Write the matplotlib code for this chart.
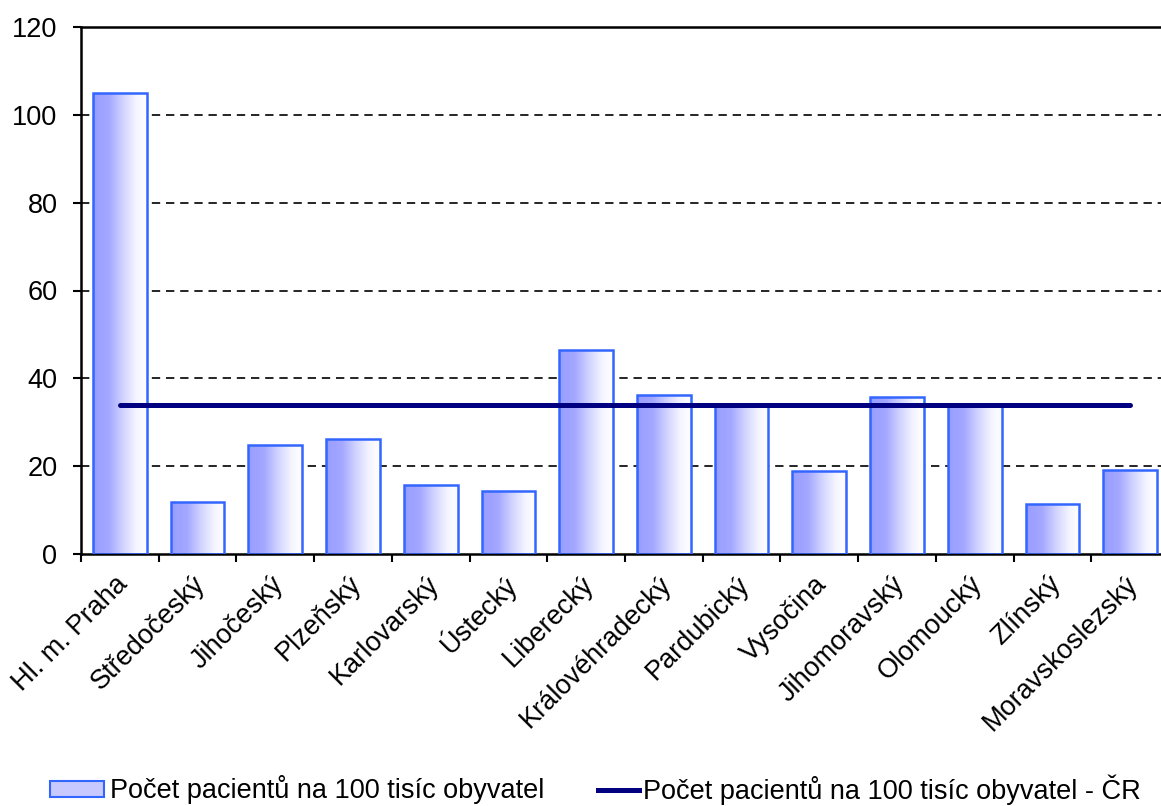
import numpy as np
import matplotlib
matplotlib.use('Agg')
import matplotlib.pyplot as plt
import matplotlib.transforms as mtransforms
from matplotlib.colors import LinearSegmentedColormap
from matplotlib.patches import Rectangle
from matplotlib.lines import Line2D

plt.rcParams['font.family'] = ['Liberation Sans', 'DejaVu Sans']

# data
regions = ['Hl. m. Praha', 'Středočeský', 'Jihočeský', 'Plzeňský', 'Karlovarský',
           'Ústecký', 'Liberecký', 'Královéhradecký', 'Pardubický', 'Vysočina',
           'Jihomoravský', 'Olomoucký', 'Zlínský', 'Moravskoslezský']
patients = [105.0, 11.8, 24.8, 26.2, 15.7, 14.3, 46.4, 36.2, 33.7, 18.9, 35.7, 33.9, 11.4, 19.1]
cr_value = 33.9
bar_label = 'Počet pacientů na 100 tisíc obyvatel'
line_label = 'Počet pacientů na 100 tisíc obyvatel - ČR'

fig = plt.figure(figsize=(11.61, 8.06), dpi=100)
ax = fig.add_axes([81 / 1161, 1 - 554 / 806, (1169 - 81) / 1161, (554 - 27) / 806])

x = np.arange(len(regions))
width = 0.69
grad_cmap = LinearSegmentedColormap.from_list(
    'grad', [(0, '#989cff'), (0.3, '#a4a8ff'), (0.55, '#d0d2ff'), (0.8, '#f4f4ff'), (1, '#ffffff')])
grad = np.linspace(0, 1, 256).reshape(1, -1)

bars = ax.bar(x, patients, width=width, facecolor='none', edgecolor='#3366ff', linewidth=1.8, zorder=3)
for b in bars:
    x0, y0 = b.get_x(), b.get_y()
    w, h = b.get_width(), b.get_height()
    im = ax.imshow(grad, cmap=grad_cmap, extent=[x0, x0 + w, y0, y0 + h],
                   aspect='auto', zorder=2, interpolation='bilinear')
    im.set_clip_path(b)

ax.plot([x[0], x[-1]], [cr_value, cr_value], color='#000080', linewidth=3.6,
        solid_capstyle='round', zorder=4)

ax.set_xlim(-0.5, len(regions) - 0.5)
ax.set_ylim(0, 120)
ax.set_yticks(np.arange(0, 121, 20))
for v in range(20, 120, 20):
    ax.axhline(v, color='black', linewidth=1.2, linestyle=(0, (5, 3.5)), zorder=1)

ax.set_xticks(x)
ax.set_xticklabels(regions, rotation=45, ha='right', va='center', rotation_mode='anchor')
ax.set_xticks(np.arange(-0.5, len(regions), 1), minor=True)
ax.tick_params(axis='x', which='major', length=0, pad=19, labelsize=19.5)
ax.tick_params(axis='x', which='minor', length=6, width=1.5, direction='out')
ax.tick_params(axis='y', length=6, width=1.5, direction='out', labelsize=19.5, pad=11)
shift = mtransforms.ScaledTranslation(4 / 100, 0, fig.dpi_scale_trans)
for lbl in ax.get_xticklabels():
    lbl.set_transform(lbl.get_transform() + shift)

ax.spines['right'].set_visible(False)
for s in ['left', 'bottom', 'top']:
    ax.spines[s].set_linewidth(1.8)

patch = Rectangle((0, 0), 1, 1, facecolor='#c8caff', edgecolor='#3366ff', linewidth=1.5)
line = Line2D([0], [0], color='#000080', linewidth=3.6)
leg1 = fig.legend([patch], [bar_label], loc='center left', bbox_to_anchor=(50 / 1161, 16 / 806),
                  frameon=False, fontsize=19.5, handlelength=2.0, handleheight=0.55,
                  handletextpad=0.2, borderpad=0, borderaxespad=0)
leg2 = fig.legend([line], [line_label], loc='center left', bbox_to_anchor=(598 / 1161, 16 / 806),
                  frameon=False, fontsize=19.5, handlelength=1.5,
                  handletextpad=0.15, borderpad=0, borderaxespad=0)

fig.savefig('out.png', dpi=100)
